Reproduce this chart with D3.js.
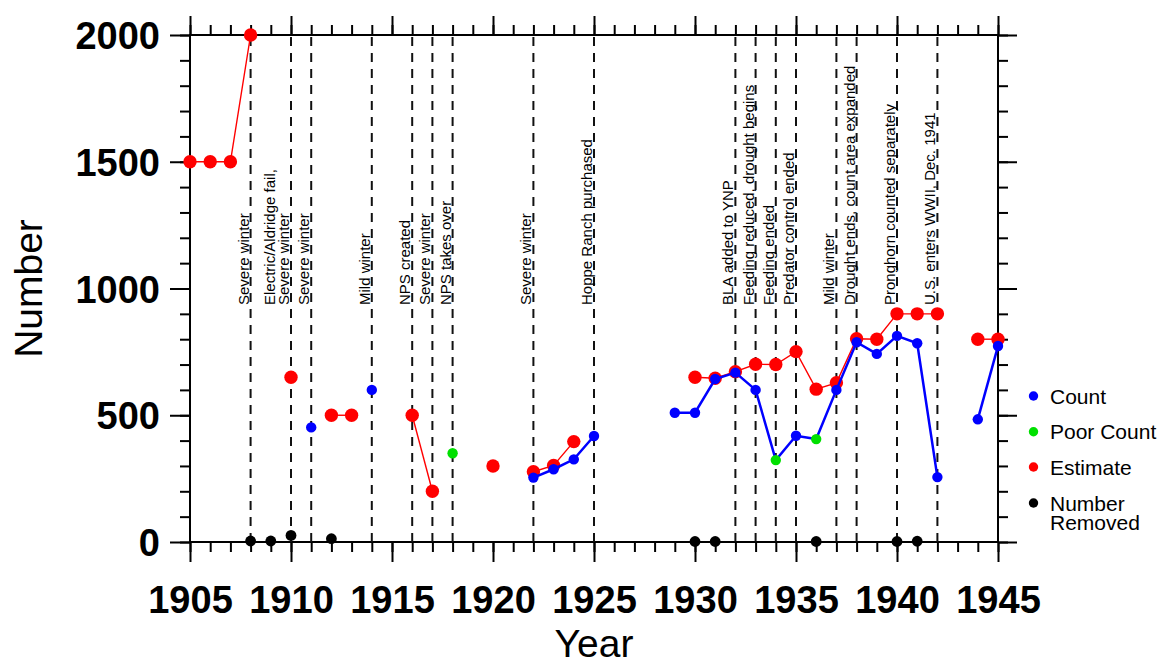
<!DOCTYPE html>
<html>
<head>
<meta charset="utf-8">
<script src="https://cdn.jsdelivr.net/npm/d3@7"></script>
<style>
  html, body { margin: 0; padding: 0; background: #fff; }
  svg { display: block; font-family: "Liberation Sans", Arial, Helvetica, sans-serif; }
</style>
</head>
<body>
<svg id="chart" width="1169" height="665"></svg>
<script>
// ---------------- DATA ----------------
const estimateYears  = [1905,1906,1907,1908,1910,1912,1913,1916,1917,1920,1922,1923,1924,
                        1930,1931,1932,1933,1934,1935,1936,1937,1938,1939,1940,1941,1942,1944,1945];
const estimateValues = [1500,1500,1500,2000,650,500,500,500,200,300,277,302,396,
                        650,646,672,701,700,751,603,628,802,800,900,900,900,800,800];

const countYears  = [1911,1914,1922,1923,1924,1925,1929,1930,1931,1932,1933,1935,1937,1938,1939,1940,1941,1942,1944,1945];
const countValues = [452,600,254,287,326,418,510,510,643,668,600,419,600,788,742,813,784,256,484,773];

const poorYears  = [1918,1934,1936];
const poorValues = [350,323,406];

const removedYears  = [1908,1909,1910,1912,1930,1931,1936,1940,1941];
const removedValues = [4,4,26,13,2,2,2,2,3];

const eventYears  = [1908,1910,1911,1914,1916,1917,1918,1922,1925,1932,1933,1934,1935,1937,1938,1940,1942];
const eventLabels = [
  ["Severe winter"],
  ["Electric/Aldridge fail,", "Severe winter"],
  ["Severe winter"],
  ["Mild winter"],
  ["NPS created"],
  ["Severe winter"],
  ["NPS takes over"],
  ["Severe winter"],
  ["Hoppe Ranch purchased"],
  ["BLA added to YNP"],
  ["Feeding reduced, drought begins"],
  ["Feeding ended"],
  ["Predator control ended"],
  ["Mild winter"],
  ["Drought ends, count area expanded"],
  ["Pronghorn counted separately"],
  ["U.S. enters WWII, Dec. 1941"]
];

const xMajorTicks = [1905,1910,1915,1920,1925,1930,1935,1940,1945];
const yMajorTicks = [0,500,1000,1500,2000];

const legendLabels = [["Count"], ["Poor Count"], ["Estimate"], ["Number", "Removed"]];
const legendColors = ["#0000ff", "#00e000", "#ff0000", "#000000"];

// ---------------- CHART ----------------
const svg = d3.select("#chart");
const x = d3.scaleLinear().domain([1905, 1945]).range([190, 998]);
const y = d3.scaleLinear().domain([0, 2000]).range([542, 35]);

const xMinor = d3.range(1905, 1946);
const yMinor = d3.range(0, 2001, 100);

function zip(ys, vs) { return ys.map((yr, i) => ({year: yr, value: vs[i]})); }
function runs(points) {
  const sorted = points.slice().sort((a, b) => a.year - b.year);
  const out = [];
  let cur = [];
  sorted.forEach(p => {
    if (cur.length && p.year - cur[cur.length - 1].year > 1) { out.push(cur); cur = []; }
    cur.push(p);
  });
  if (cur.length) out.push(cur);
  return out;
}

function styleAxis(g) {
  g.select(".domain").remove();
  g.selectAll(".tick line").attr("stroke", "#000").attr("stroke-width", 2);
}
// minor ticks
svg.append("g").attr("transform", `translate(0,${y(0)})`)
  .call(d3.axisBottom(x).tickValues(xMinor).tickSize(10).tickFormat(""))
  .call(styleAxis);
svg.append("g").attr("transform", `translate(0,${y(2000)})`)
  .call(d3.axisTop(x).tickValues(xMinor).tickSize(10).tickFormat(""))
  .call(styleAxis);
svg.append("g").attr("transform", `translate(${x(1905)},0)`)
  .call(d3.axisLeft(y).tickValues(yMinor).tickSize(10).tickFormat(""))
  .call(styleAxis);
svg.append("g").attr("transform", `translate(${x(1945)},0)`)
  .call(d3.axisRight(y).tickValues(yMinor).tickSize(10).tickFormat(""))
  .call(styleAxis);

// major ticks + labels
const gxB = svg.append("g").attr("transform", `translate(0,${y(0)})`)
  .call(d3.axisBottom(x).tickValues(xMajorTicks).tickSize(20).tickFormat(d3.format("d")))
  .call(styleAxis);
gxB.selectAll("text").attr("y", 71).attr("dy", 0)
  .attr("font-size", 38).attr("font-weight", "bold").attr("fill", "#000")
  .attr("font-family", '"Liberation Sans", Arial, sans-serif');
svg.append("g").attr("transform", `translate(0,${y(2000)})`)
  .call(d3.axisTop(x).tickValues(xMajorTicks).tickSize(19).tickFormat(""))
  .call(styleAxis);
const gyL = svg.append("g").attr("transform", `translate(${x(1905)},0)`)
  .call(d3.axisLeft(y).tickValues(yMajorTicks).tickSize(20).tickPadding(10).tickFormat(d3.format("d")))
  .call(styleAxis);
gyL.selectAll("text").attr("dy", "0.36em")
  .attr("font-size", 38).attr("font-weight", "bold").attr("fill", "#000")
  .attr("font-family", '"Liberation Sans", Arial, sans-serif');
svg.append("g").attr("transform", `translate(${x(1945)},0)`)
  .call(d3.axisRight(y).tickValues(yMajorTicks).tickSize(19).tickFormat(""))
  .call(styleAxis);

// frame
svg.append("rect")
  .attr("x", x(1905)).attr("y", y(2000))
  .attr("width", x(1945) - x(1905)).attr("height", y(0) - y(2000))
  .attr("fill", "none").attr("stroke", "#000").attr("stroke-width", 2);

// event dashed lines
svg.append("g").selectAll("line").data(eventYears).join("line")
  .attr("x1", d => x(d)).attr("x2", d => x(d))
  .attr("y1", y(0)).attr("y2", y(2000))
  .attr("stroke", "#111").attr("stroke-width", 2)
  .attr("stroke-dasharray", "9,7");

// event labels
const evG = svg.append("g");
eventYears.forEach((yr, i) => {
  const lines = eventLabels[i];
  const n = lines.length;
  const t = evG.append("text")
    .attr("transform", `translate(${x(yr) - 2},305) rotate(-90)`)
    .attr("text-anchor", "start")
    .attr("font-size", 15)
    .attr("fill", "#000");
  lines.forEach((txt, j) => {
    t.append("tspan").attr("x", 0).attr("y", -(n - 1 - j) * 14).text(txt);
  });
});

// estimate series
const estPts = zip(estimateYears, estimateValues);
const line = d3.line().x(d => x(d.year)).y(d => y(d.value));
svg.append("g").selectAll("path").data(runs(estPts).filter(r => r.length > 1)).join("path")
  .attr("d", line).attr("fill", "none").attr("stroke", "#ff0000").attr("stroke-width", 1.4);
svg.append("g").selectAll("circle").data(estPts).join("circle")
  .attr("cx", d => x(d.year)).attr("cy", d => y(d.value)).attr("r", 6.7)
  .attr("fill", "#ff0000");

// count line (count + poor count)
const countPts = zip(countYears, countValues);
const poorPts = zip(poorYears, poorValues);
svg.append("g").selectAll("path").data(runs(countPts.concat(poorPts)).filter(r => r.length > 1)).join("path")
  .attr("d", line).attr("fill", "none").attr("stroke", "#0000ff").attr("stroke-width", 2.5);
svg.append("g").selectAll("circle").data(countPts).join("circle")
  .attr("cx", d => x(d.year)).attr("cy", d => y(d.value)).attr("r", 5.2)
  .attr("fill", "#0000ff");
svg.append("g").selectAll("circle").data(poorPts).join("circle")
  .attr("cx", d => x(d.year)).attr("cy", d => y(d.value)).attr("r", 5.2)
  .attr("fill", "#00e000");

// removed
const remPts = zip(removedYears, removedValues);
svg.append("g").selectAll("circle").data(remPts).join("circle")
  .attr("cx", d => x(d.year)).attr("cy", d => y(d.value)).attr("r", 5.4)
  .attr("fill", "#000");

// axis titles
svg.append("text")
  .attr("x", (x(1905) + x(1945)) / 2).attr("y", 657)
  .attr("text-anchor", "middle").attr("font-size", 39).attr("fill", "#000")
  .text("Year");
svg.append("text")
  .attr("transform", `translate(42,${(y(0) + y(2000)) / 2}) rotate(-90)`)
  .attr("text-anchor", "middle").attr("font-size", 39).attr("fill", "#000")
  .text("Number");

// legend
const legY = [396, 431.7, 467, 503];
const leg = svg.append("g");
legendLabels.forEach((lbl, i) => {
  leg.append("circle").attr("cx", 1033.5).attr("cy", legY[i]).attr("r", 4.7).attr("fill", legendColors[i]);
  const t = leg.append("text")
    .attr("font-size", 21).attr("fill", "#000");
  lbl.forEach((s, j) => {
    t.append("tspan").attr("x", 1050).attr("y", legY[i] + j * 19).attr("dy", "0.36em").text(s);
  });
});
</script>
</body>
</html>
